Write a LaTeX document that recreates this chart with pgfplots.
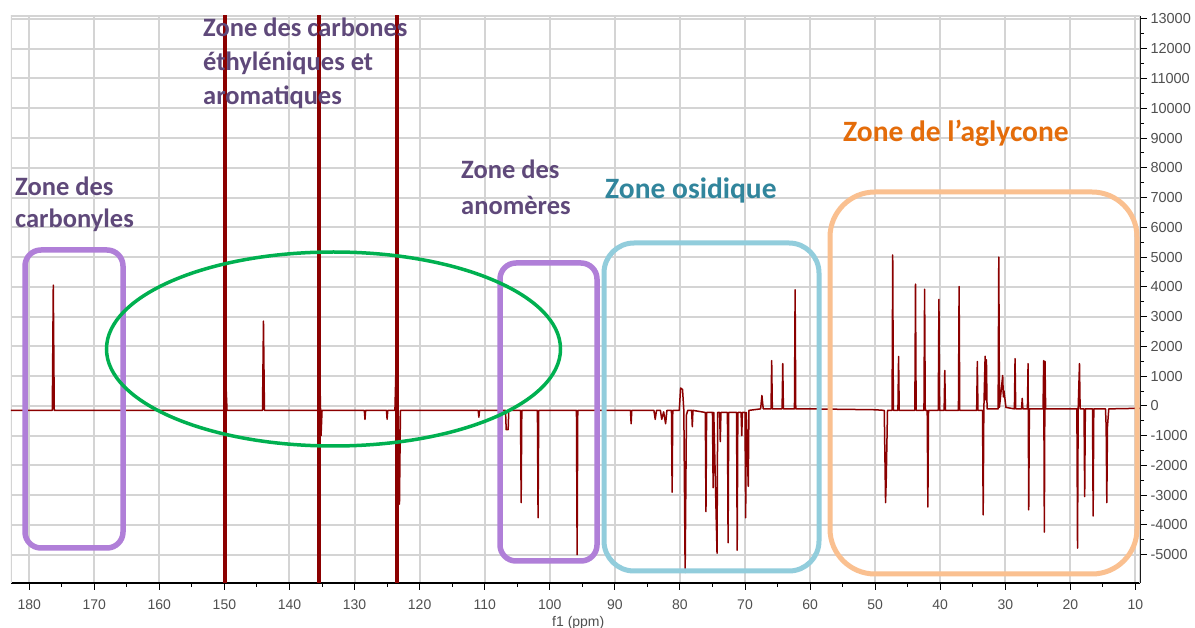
\documentclass[border=0pt]{standalone}
\usepackage{fontspec}
\setmainfont{Carlito}
\newfontfamily\tickfont{Liberation Sans}
\usepackage{pgfplots}
\pgfplotsset{compat=1.18}
\definecolor{spec}{HTML}{8B0000}
\definecolor{ptxt}{HTML}{5F497A}
\definecolor{ttxt}{HTML}{31859C}
\definecolor{otxt}{HTML}{E46C0A}
\definecolor{pbox}{HTML}{B07FD8}
\definecolor{bbox}{HTML}{92CDDC}
\definecolor{obox}{HTML}{FAC090}
\definecolor{gell}{HTML}{00B050}
\definecolor{tickc}{HTML}{505050}
\begin{document}
\begin{tikzpicture}
\useasboundingbox (0pt,0pt) rectangle (1195pt,627pt);
\fill[white] (0pt,0pt) rectangle (1195pt,627pt);
\begin{axis}[
  at={(11pt,44pt)}, anchor=south west,
  scale only axis, width=1129pt, height=567pt,
  x dir=reverse,
  xmin=9.3, xmax=182.8, ymin=-5950, ymax=13100,
  axis x line*=bottom, axis y line*=right,
  x axis line style={-, black, line width=1.2pt},
  y axis line style={-, black, line width=1.2pt},
  xtick={10,20,...,180}, ytick={-5000,-4000,...,13000},
  minor x tick num=1, minor y tick num=1,
  xtick pos=bottom, ytick pos=right,
  yticklabel pos=right,
  tick align=outside,
  major tick length=7pt, minor tick length=4pt,
  every tick/.style={black, line width=1pt},
  grid=major,
  major grid style={black!17, line width=2pt},
  scaled ticks=false,
  /pgf/number format/assume math mode=true,
  /pgf/number format/1000 sep={},
  xticklabel style={font=\tickfont\fontsize{14}{16}\selectfont, text=tickc, yshift=-6pt},
  yticklabel style={font=\tickfont\fontsize{14.5}{16}\selectfont, text=tickc, xshift=0pt},
  clip=true,
]
\draw[black!17, line width=2pt] (rel axis cs:0,0) -- (rel axis cs:0,1) -- (rel axis cs:1,1) -- (rel axis cs:1,0);
% main spectrum
\addplot[spec, line width=1.5pt, line join=round] coordinates {
(182.8,-150) (176.45,-150) (176.3,4060) (176.15,-150)
(150.1,-150) (149.8,900) (149.6,-150)
(144.15,-150) (144.0,2850) (143.85,-150)
(135.5,-150) (135.3,600) (135.15,-1000) (135.0,-150)
(128.5,-150) (128.4,-450) (128.3,-150)
(125.1,-150) (125.0,-450) (124.9,-150)
(123.8,-150) (123.6,1600) (123.3,-150) (123.1,-3300) (122.95,-150)
(111.0,-150) (110.9,-380) (110.8,-150)
(106.8,-150) (106.7,-800) (106.4,-800) (106.3,-150)
(104.5,-150) (104.4,-3250) (104.3,-150)
(101.9,-150) (101.8,-3760) (101.7,-150)
(95.9,-150) (95.8,-5000) (95.7,-150)
(87.6,-150) (87.5,-600) (87.4,-150)
(84.0,-150) (83.8,-450) (83.6,-150)
(83.0,-150) (82.8,-450) (82.5,-200) (82.2,-600) (82.0,-150)
(81.3,-150) (81.2,-2900) (81.1,-150)
(80.1,-150) (79.9,600) (79.6,550) (79.4,-150) (79.2,-5600) (79.0,-300) (78.8,-150)
(78.2,-150) (78.1,-700) (78.0,-150)
(76.1,-220) (76.0,-3550) (75.9,-220)
(75.0,-220) (74.9,-2750) (74.8,-220) (74.3,-4950) (74.2,-220)
(73.9,-220) (73.8,-1200) (73.7,-220)
(72.7,-220) (72.6,-4600) (72.5,-220)
(71.3,-220) (71.2,-4850) (71.1,-220)
(70.6,-220) (70.5,-1000) (70.4,-220)
(70.0,-220) (69.9,-3760) (69.8,-220) (69.5,-2700) (69.4,-150)
(67.6,-100) (67.4,350) (67.2,-100)
(66.0,-100) (65.9,1520) (65.8,-100)
(64.3,-100) (64.2,1420) (64.1,-100)
(62.4,-100) (62.3,3900) (62.2,-100)
(60,-100) (50,-130)
(48.6,-150) (48.4,-3250) (48.3,-2500) (48.1,-150)
(47.4,-150) (47.3,5070) (47.2,-150)
(46.5,-150) (46.4,1660) (46.3,-150)
(43.9,-150) (43.8,4090) (43.7,-150)
(42.5,-150) (42.4,3920) (42.3,-150)
(42.0,-150) (41.9,-3400) (41.8,-150)
(40.3,-150) (40.2,3580) (40.1,-150)
(39.4,-150) (39.3,1190) (39.2,-150)
(37.2,-150) (37.1,4010) (37.0,-150)
(34.4,-150) (34.3,1490) (34.2,-150)
(33.5,-150) (33.4,-3660) (33.3,-150) (33.1,1670) (33.0,200) (32.9,1550) (32.8,-100)
(31.1,-100) (31.0,5000) (30.9,-50) (30.4,1020) (30.3,300) (30.2,500) (29.9,-50)
(28.6,-100) (28.5,1590) (28.4,-100)
(27.5,-100) (27.4,250) (27.3,-100)
(26.6,-100) (26.5,1420) (26.4,-3490) (26.3,-100)
(24.2,-100) (24.1,1520) (24.0,-4240) (23.9,1500) (23.8,-100)
(19.0,-100) (18.9,-4780) (18.8,-100) (18.6,1420) (18.5,-100)
(17.9,-100) (17.8,-3050) (17.7,-100)
(16.6,-100) (16.5,-3700) (16.4,-100)
(14.6,-100) (14.5,-700) (14.4,-3250) (14.3,-700) (14.1,-100)
(9.3,-80)
};
% off-scale intense peaks
\addplot[spec, line width=4pt] coordinates {(149.9,-7000) (149.9,14000)};
\addplot[spec, line width=4pt] coordinates {(135.4,-7000) (135.4,14000)};
\addplot[spec, line width=4pt] coordinates {(123.5,-7000) (123.5,14000)};
\end{axis}
% annotations
\draw[pbox, line width=5.5pt, rounded corners=16pt] (25pt,79pt) rectangle (123pt,377pt);
\draw[pbox, line width=5.5pt, rounded corners=16pt] (500pt,66pt) rectangle (597pt,364pt);
\draw[bbox, line width=5pt, rounded corners=30pt] (604pt,56pt) rectangle (819pt,384pt);
\draw[obox, line width=5pt, rounded corners=45pt] (830pt,53pt) rectangle (1137pt,435pt);
\draw[gell, line width=3.5pt] (333.5pt,278pt) ellipse [x radius=227pt, y radius=97pt];
\begin{scope}[every node/.style={anchor=base west, inner sep=0pt, font=\bfseries\fontsize{26.5}{30}\selectfont}]
\node[text=ptxt] at (15pt,431pt) {Zone des};
\node[text=ptxt] at (15pt,399pt) {carbonyles};
\node[text=ptxt] at (203pt,590pt) {Zone des carbones};
\node[text=ptxt] at (203pt,556pt) {éthyléniques et};
\node[text=ptxt] at (203pt,522pt) {aromatiques};
\node[text=ptxt] at (461pt,448pt) {Zone des};
\node[text=ptxt] at (461pt,412pt) {anomères};
\node[text=ttxt, font=\bfseries\fontsize{29.5}{32}\selectfont] at (605pt,428pt) {Zone osidique};
\node[text=otxt, font=\bfseries\fontsize{29.5}{32}\selectfont] at (843pt,485pt) {Zone de l’aglycone};
\end{scope}
\node[anchor=base west, inner sep=0pt, text=tickc, font=\tickfont\fontsize{14}{16}\selectfont] at (552pt,1pt) {f1 (ppm)};
\end{tikzpicture}
\end{document}
